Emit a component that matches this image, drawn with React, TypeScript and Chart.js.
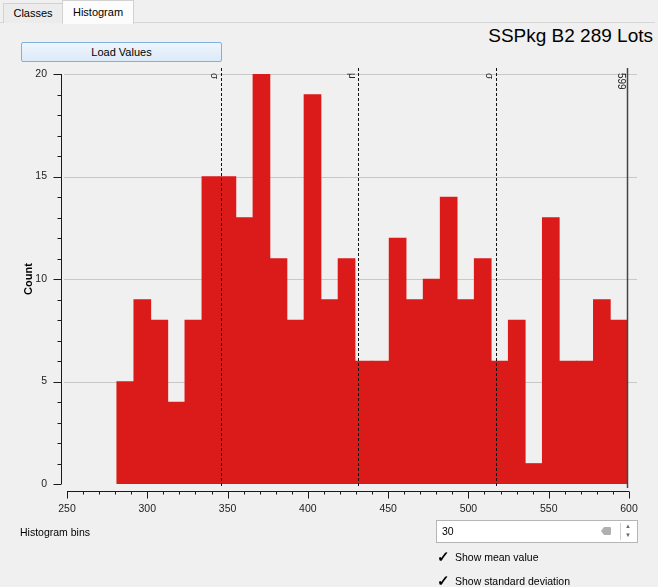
import React, { useEffect, useRef } from "react";
import { Chart, registerables } from "chart.js";

Chart.register(...registerables);

// ---- data ----
const binCounts = [5, 9, 8, 4, 8, 15, 15, 13, 20, 11, 8, 19, 9, 11, 6, 6, 12, 9, 10, 14, 9, 11, 6, 8, 1, 13, 6, 6, 9, 8];
const binMin = 281;
const binMax = 599;
const meanValue = 431.5;
const stdDev = 85.6;
const maxLabel = "599";
const xAxisMin = 250;
const xAxisMax = 600;
const xMajorStep = 50;
const xMinorStep = 10;
const yAxisMax = 20;
const yMajorStep = 5;
const yMinorStep = 1;
const chartTitle = "SSPkg B2 289 Lots";
const yTitle = "Count";
const binsSetting = "30";

const FONT = "'Liberation Sans', Arial, sans-serif";
const W = 658;
const H = 587;

const overlayPlugin = {
  id: "qgisOverlay",
  beforeDatasetsDraw(chart: any) {
    const { ctx, chartArea } = chart;
    const ys = chart.scales.y;
    ctx.save();
    ctx.strokeStyle = "#c8c8c8";
    ctx.lineWidth = 1;
    ctx.beginPath();
    for (let v = yMajorStep; v <= yAxisMax; v += yMajorStep) {
      const py = Math.round(ys.getPixelForValue(v)) + 0.5;
      ctx.moveTo(chartArea.left - 3, py);
      ctx.lineTo(chartArea.right + 8, py);
    }
    ctx.stroke();
    ctx.restore();
  },
  afterDatasetsDraw(chart: any) {
    const { ctx, chartArea } = chart;
    const xs = chart.scales.x;
    const ys = chart.scales.y;
    ctx.save();
    // y axis (offset to the left)
    const ax = Math.round(chartArea.left - 6) + 0.5;
    ctx.strokeStyle = "#1a1a1a";
    ctx.lineWidth = 1;
    ctx.beginPath();
    ctx.moveTo(ax, ys.getPixelForValue(yAxisMax));
    ctx.lineTo(ax, ys.getPixelForValue(0));
    for (let v = 0; v <= yAxisMax; v += yMinorStep) {
      const py = Math.round(ys.getPixelForValue(v)) + 0.5;
      const len = v % yMajorStep === 0 ? 8 : 4;
      ctx.moveTo(ax - len, py);
      ctx.lineTo(ax, py);
    }
    ctx.stroke();
    // x axis (offset below)
    const ay = Math.round(chartArea.bottom + 7) + 0.5;
    ctx.beginPath();
    ctx.moveTo(xs.getPixelForValue(xAxisMin), ay);
    ctx.lineTo(xs.getPixelForValue(xAxisMax), ay);
    for (let v = xAxisMin; v <= xAxisMax; v += xMinorStep) {
      const px = Math.round(xs.getPixelForValue(v)) + 0.5;
      const len = (v - xAxisMin) % xMajorStep === 0 ? 7 : 3;
      ctx.moveTo(px, ay);
      ctx.lineTo(px, ay + len);
    }
    ctx.stroke();

    // mean / std-dev markers
    const topY = chartArea.top - 6;
    const botY = chartArea.bottom + 4;
    const markers = [
      { v: meanValue - stdDev, label: "σ" },
      { v: meanValue, label: "μ" },
      { v: meanValue + stdDev, label: "σ" },
    ];
    ctx.strokeStyle = "#111";
    ctx.setLineDash([3, 2]);
    for (const m of markers) {
      const px = Math.round(xs.getPixelForValue(m.v)) + 0.5;
      ctx.beginPath();
      ctx.moveTo(px, topY);
      ctx.lineTo(px, botY);
      ctx.stroke();
    }
    ctx.setLineDash([]);
    // max line
    const mx = Math.round(xs.getPixelForValue(binMax)) + 0.5;
    ctx.strokeStyle = "#444";
    ctx.lineWidth = 1.5;
    ctx.beginPath();
    ctx.moveTo(mx, topY);
    ctx.lineTo(mx, botY);
    ctx.stroke();

    // labels, rotated
    ctx.fillStyle = "#222";
    ctx.font = `10px ${FONT}`;
    const all = [...markers, { v: binMax, label: maxLabel }];
    for (const m of all) {
      const px = xs.getPixelForValue(m.v);
      ctx.save();
      ctx.translate(px - 2, chartArea.top - 1);
      ctx.rotate(Math.PI / 2);
      ctx.textAlign = "left";
      ctx.textBaseline = "top";
      ctx.fillText(m.label, 0, 0);
      ctx.restore();
    }
    ctx.restore();
  },
};

function HistogramChart() {
  const ref = useRef<HTMLCanvasElement | null>(null);
  useEffect(() => {
    if (!ref.current) return;
    const w = (binMax - binMin) / binCounts.length;
    const points = binCounts.map((c, i) => ({ x: binMin + w * (i + 0.5), y: c }));
    const chart = new Chart(ref.current, {
      type: "bar",
      data: {
        datasets: [
          {
            data: points as any,
            backgroundColor: "#db1a1a",
            borderWidth: 0,
            barPercentage: 1,
            categoryPercentage: 1,
          },
        ],
      },
      options: {
        animation: false,
        responsive: false,
        parsing: { xAxisKey: "x", yAxisKey: "y" } as any,
        layout: { padding: { top: 74, right: 29, bottom: 0, left: 0 } },
        plugins: { legend: { display: false }, tooltip: { enabled: false }, title: { display: false } },
        scales: {
          x: {
            type: "linear",
            min: xAxisMin,
            max: xAxisMax,
            offset: false,
            afterFit: (s: any) => {
              s.height = H - 484;
            },
            grid: { display: false, drawTicks: false },
            border: { display: false },
            ticks: {
              stepSize: xMajorStep,
              padding: 19,
              maxRotation: 0,
              autoSkip: false,
              color: "#222",
              font: { family: FONT, size: 10.5 },
            },
          },
          y: {
            type: "linear",
            min: 0,
            max: yAxisMax,
            afterFit: (s: any) => {
              s.width = 67;
            },
            grid: { display: false, drawTicks: false },
            border: { display: false },
            ticks: {
              stepSize: yMajorStep,
              padding: 20,
              color: "#222",
              font: { family: FONT, size: 10.5 },
            },
            title: {
              display: true,
              text: yTitle,
              color: "#000",
              font: { family: FONT, size: 11, weight: "bold" },
              padding: { top: 22, bottom: 0 },
            },
          },
        },
      },
      plugins: [overlayPlugin],
    });
    return () => chart.destroy();
  }, []);
  return <canvas ref={ref} width={W} height={H} style={{ position: "absolute", left: 0, top: 0, width: W, height: H }} />;
}

export default function App() {
  const txt: React.CSSProperties = { position: "absolute", fontFamily: FONT, fontSize: 11, color: "#000", whiteSpace: "nowrap" };
  return (
    <div style={{ position: "fixed", left: 0, top: 0, width: W, height: H, background: "#f0f0f0", overflow: "hidden" }}>
      {/* tab pane line */}
      <div style={{ position: "absolute", left: 0, top: 22, width: 655, height: 1, background: "#d6d6d6" }} />
      <div style={{ ...txt, left: 3, top: 3, width: 58, height: 19, background: "#ececec", border: "1px solid #d2d2d2", borderBottom: "none", textAlign: "center", lineHeight: "19px" }}>Classes</div>
      <div style={{ ...txt, left: 62, top: 0, width: 70, height: 23, background: "#fcfcfc", border: "1px solid #d2d2d2", borderBottom: "none", textAlign: "center", lineHeight: "23px" }}>Histogram</div>
      {/* button */}
      <div style={{ ...txt, left: 21, top: 42, width: 199, height: 18, background: "linear-gradient(#eef5fc, #dceaf8)", border: "1px solid #7fb0e0", borderRadius: 2, textAlign: "center", lineHeight: "18px" }}>Load Values</div>
      {/* title */}
      <div style={{ ...txt, right: 5, top: 24, fontSize: 19, lineHeight: "24px" }}>{chartTitle}</div>
      <HistogramChart />
      {/* bottom controls */}
      <div style={{ ...txt, left: 20, top: 525, lineHeight: "14px", fontSize: 10.5 }}>Histogram bins</div>
      <div style={{ position: "absolute", left: 436, top: 520, width: 200, height: 21, background: "#fff", border: "1px solid #b5b5b5" }}>
        <div style={{ ...txt, left: 5, top: 3, lineHeight: "14px", fontSize: 10.5 }}>{binsSetting}</div>
        <div style={{ position: "absolute", left: 164, top: 6, width: 10, height: 8, background: "#b0b0b0", borderRadius: 1, clipPath: "polygon(30% 0, 100% 0, 100% 100%, 30% 100%, 0 50%)" }} />
        <div style={{ position: "absolute", left: 183, top: 2, width: 1, height: 17, background: "#d0d0d0" }} />
        <div style={{ ...txt, left: 188, top: 1, fontSize: 6, lineHeight: "9px", color: "#666" }}>▲</div>
        <div style={{ ...txt, left: 188, top: 10, fontSize: 6, lineHeight: "9px", color: "#666" }}>▼</div>
      </div>
      <div style={{ ...txt, left: 437, top: 548, fontSize: 15, lineHeight: "17px", fontWeight: "bold" }}>✓</div>
      <div style={{ ...txt, left: 455, top: 550, fontSize: 10.5, lineHeight: "14px" }}>Show mean value</div>
      <div style={{ ...txt, left: 437, top: 572, fontSize: 15, lineHeight: "17px", fontWeight: "bold" }}>✓</div>
      <div style={{ ...txt, left: 455, top: 574, fontSize: 10.5, lineHeight: "14px" }}>Show standard deviation</div>
    </div>
  );
}
